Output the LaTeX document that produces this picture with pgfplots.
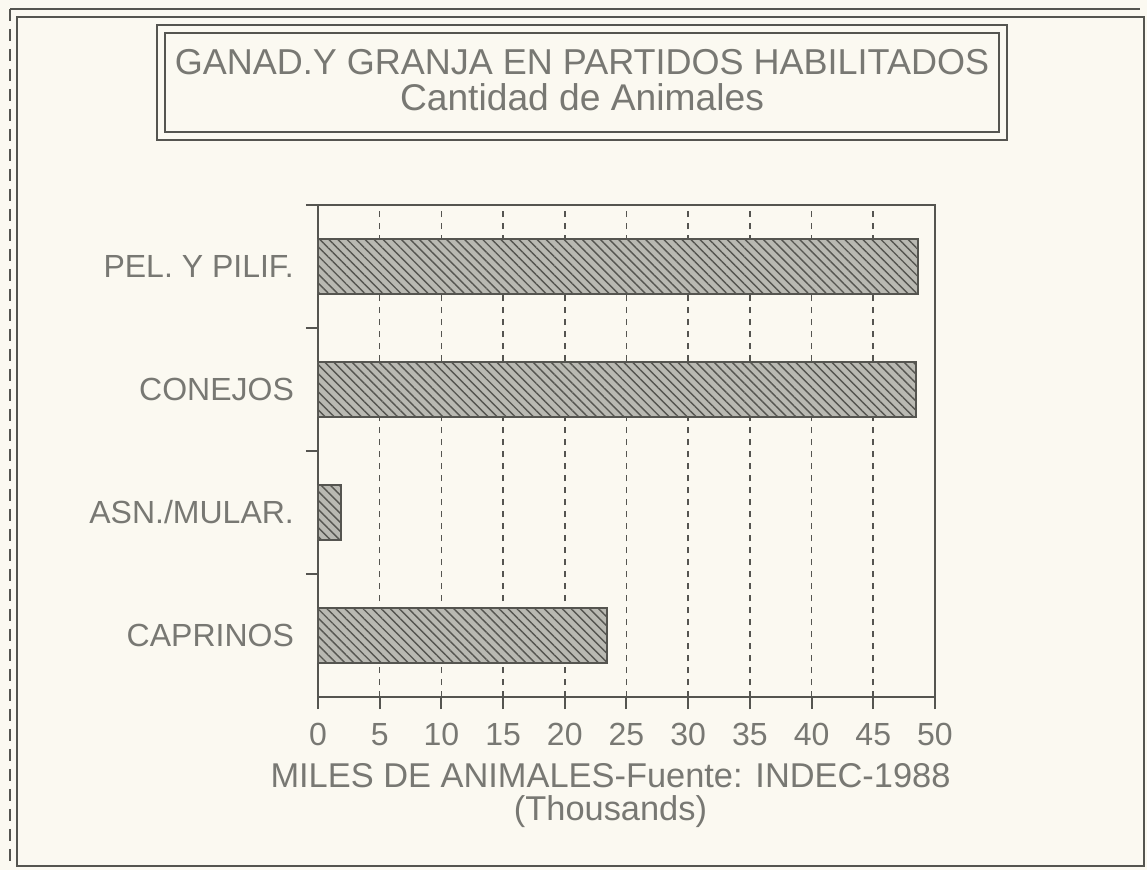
\documentclass[border=0pt]{standalone}
\usepackage{fontspec}
\setmainfont{Liberation Sans}
\usepackage{pgfplots}
\pgfplotsset{compat=1.18}
\usetikzlibrary{patterns,patterns.meta}
\definecolor{bg}{RGB}{251,249,241}
\definecolor{txt}{RGB}{120,120,115}
\definecolor{ln}{RGB}{85,85,80}
\definecolor{barfill}{RGB}{185,185,178}
\begin{document}
\begin{tikzpicture}
\begin{scope}[x=0.25pt,y=-0.25pt]
\fill[bg] (0,0) rectangle (1147,870);
\draw[ln, line width=0.5pt] (10,9) -- (1140,9);
\draw[ln, densely dashed, line width=0.4pt] (10,9) -- (10,866);
\draw[ln, line width=0.5pt] (17,17) rectangle (1144,866);
\draw[ln, line width=0.5pt] (157,25) rectangle (1007,140);
\draw[ln, line width=0.5pt] (165,33) rectangle (999,132);
\node[txt, font=\fontsize{9}{11}\selectfont] at (582,62) {GANAD.Y GRANJA EN PARTIDOS HABILITADOS};
\node[txt, font=\fontsize{9.3}{11}\selectfont] at (582,97) {Cantidad de Animales};
\end{scope}
\begin{axis}[
  at={(79.5pt,-174.25pt)}, anchor=south west,
  scale only axis, width=154.25pt, height=123pt,
  xmin=0, xmax=50, ymin=-0.5, ymax=3.5,
  xbar, bar width=13.75pt,
  xtick={0,5,...,50},
  ytick={0.5,1.5,2.5,3.5}, yticklabels={},
  extra y ticks={0,1,2,3},
  extra y tick labels={CAPRINOS,ASN./MULAR.,CONEJOS,PEL. Y PILIF.},
  extra y tick style={major tick length=0pt, yticklabel style={xshift=-2.5pt}},
  xmajorgrids,
  grid style={ln, dash pattern=on 1.5pt off 1.5pt, line width=0.4pt},
  tick align=outside, xtick pos=bottom, ytick pos=left,
  major tick length=3pt,
  axis line style={ln, line width=0.6pt},
  tick style={ln, line width=0.5pt},
  ticklabel style={txt, font=\fontsize{8}{10}\selectfont},
  /pgf/number format/assume math mode=true,
  xlabel={MILES DE ANIMALES-Fuente: INDEC-1988\\(Thousands)},
  xlabel style={align=center, txt, font=\fontsize{8.6}{8.3}\selectfont, xshift=-4pt, yshift=2.5pt},
]
\addplot[draw=ln, line width=0.5pt, fill=barfill,
  postaction={pattern={Lines[angle=-45, distance=1.6pt, line width=0.35pt]}, pattern color=ln}]
  coordinates {(23.4,0) (1.9,1) (48.5,2) (48.6,3)};
\draw[ln, line width=0.5pt] (rel axis cs:-0.02,-0.008) -- (rel axis cs:0.995,-0.008);
\end{axis}
\end{tikzpicture}
\end{document}
